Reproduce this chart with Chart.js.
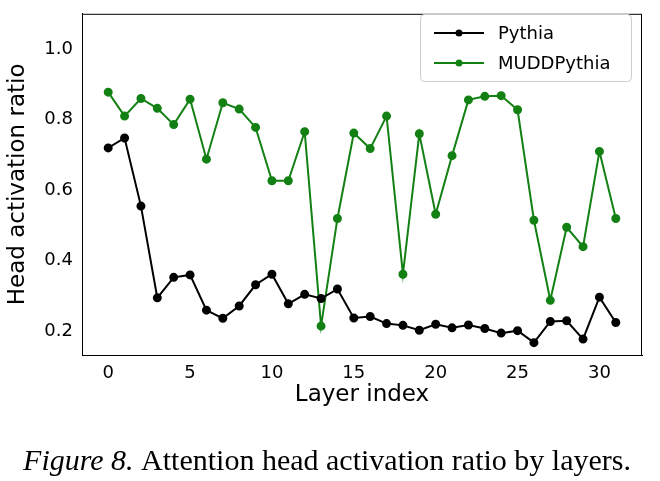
<!DOCTYPE html>
<html><head><script src="https://cdn.jsdelivr.net/npm/chart.js@4"></script>
<style>body{margin:0;background:#fff}</style></head>
<body><div style="width:660px;height:481px"><canvas id="c"></canvas></div>
<script>
const layers = Array.from({length:32},(_,i)=>i);
const pythia = [0.72,0.748,0.555,0.295,0.353,0.36,0.26,0.237,0.272,0.332,0.362,0.278,0.305,0.293,0.32,0.238,0.242,0.222,0.217,0.203,0.22,0.21,0.218,0.208,0.195,0.202,0.168,0.228,0.23,0.178,0.297,0.225];
const mudd = [0.878,0.81,0.86,0.832,0.786,0.858,0.688,0.848,0.83,0.778,0.627,0.627,0.766,0.215,0.52,0.762,0.718,0.81,0.362,0.76,0.532,0.698,0.856,0.866,0.868,0.828,0.515,0.288,0.495,0.44,0.71,0.52];
const xTicks = [0,5,10,15,20,25,30];
const yTicks = [0.2,0.4,0.6,0.8,1.0];
const names = ['Pythia','MUDDPythia'];
const colors = ['#000000','#138013'];
const F = 'DejaVu Sans';
const mk = (d,i)=>({label:names[i],data:layers.map((x,j)=>({x,y:d[j]})),borderColor:colors[i],backgroundColor:colors[i],borderWidth:2,pointRadius:3.5,pointHoverRadius:3.5,tension:0});
const extra = {id:'extra',afterDraw(ch){
  const c=ch.ctx;c.save();const a0=ch.chartArea;
  c.strokeStyle='#000';c.lineWidth=1;c.strokeRect(a0.left+0.5,a0.top+0.5,a0.right-a0.left-1,a0.bottom-a0.top);
  c.fillStyle='#fff';c.strokeStyle='#ccc';
  c.beginPath();c.roundRect(420.5,14.5,211,67,4);c.fill();c.stroke();
  names.forEach((n,i)=>{const y=33+i*30;c.strokeStyle=colors[i];c.fillStyle=colors[i];c.lineWidth=2;
    c.beginPath();c.moveTo(434,y);c.lineTo(484,y);c.stroke();c.beginPath();c.arc(459,y,3.5,0,7);c.fill();
    c.fillStyle='#000';c.font='18px '+F;c.textBaseline='middle';c.fillText(n,498,y+1);});
  c.fillStyle='#000';c.textBaseline='alphabetic';
  const sz=30;c.font='italic '+sz+'px "Liberation Serif"';const a='Figure 8.';const b=' Attention head activation ratio by layers.';
  const wa=c.measureText(a).width;c.font=sz+'px "Liberation Serif"';const wb=c.measureText(b).width;
  const x0=327-(wa+wb)/2;c.textAlign='left';c.font='italic '+sz+'px "Liberation Serif"';c.fillText(a,x0,470);
  c.font=sz+'px "Liberation Serif"';c.fillText(b,x0+wa,470);c.restore();}};
new Chart(document.getElementById('c'),{type:'line',data:{datasets:[mk(pythia,0),mk(mudd,1)]},
 plugins:[extra],
 options:{responsive:true,maintainAspectRatio:false,animation:false,
  layout:{padding:{top:8,right:18,left:0,bottom:68}},
  plugins:{legend:{display:false},tooltip:{enabled:false}},
  scales:{
   x:{type:'linear',min:-1.6,max:32.6,afterBuildTicks:s=>{s.ticks=xTicks.map(v=>({value:v}))},
     afterFit:s=>{s.height=58},
     grid:{display:false,drawTicks:true,tickLength:6,tickColor:'#000'},border:{color:'#000',width:1},
     ticks:{color:'#000',font:{family:F,size:18},padding:2,maxRotation:0},
     title:{display:true,text:'Layer index',color:'#000',font:{family:F,size:23},padding:{top:0}}},
   y:{min:0.133,max:1.1,afterBuildTicks:s=>{s.ticks=yTicks.map(v=>({value:v}))},
     afterFit:s=>{s.width=82},
     grid:{display:false,drawTicks:true,tickLength:6,tickColor:'#000'},border:{color:'#000',width:1},
     ticks:{color:'#000',font:{family:F,size:18},padding:3,callback:v=>v.toFixed(1)},
     title:{display:true,text:'Head activation ratio',color:'#000',font:{family:F,size:23},padding:{bottom:2}}}
  }}});
</script></body></html>
